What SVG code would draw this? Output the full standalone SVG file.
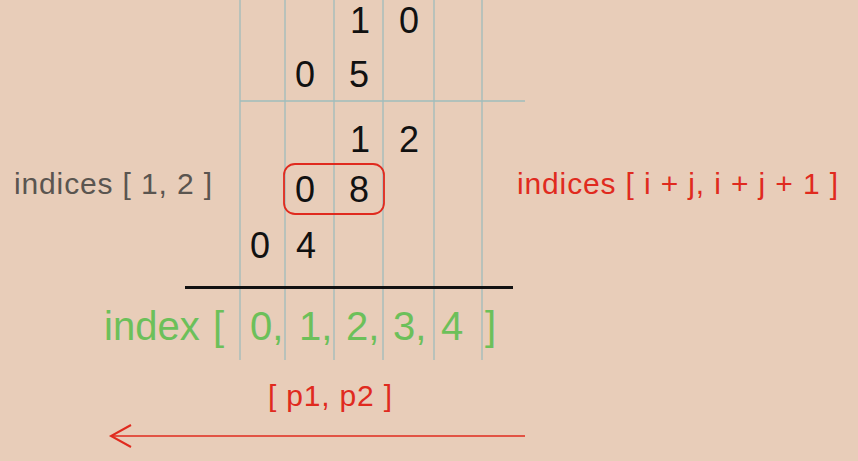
<svg xmlns="http://www.w3.org/2000/svg" width="858" height="461" viewBox="0 0 858 461">
<style>
.grid{stroke:#9fbcbc;stroke-width:1.3;fill:none}
.d{font-family:"Liberation Sans",Arial,sans-serif;font-size:36px;fill:#111;text-anchor:middle}
.g{font-family:"Liberation Sans",Arial,sans-serif;font-size:40px;fill:#6cc05a}
.r{font-family:"Liberation Sans",Arial,sans-serif;fill:#e02a1e}
</style>
<rect width="858" height="461" fill="#e8cdb9"/>
<g id="grid">
<line class="grid" x1="240" y1="0" x2="240" y2="360"/>
<line class="grid" x1="285" y1="0" x2="285" y2="360"/>
<line class="grid" x1="334" y1="0" x2="334" y2="360"/>
<line class="grid" x1="383" y1="0" x2="383" y2="360"/>
<line class="grid" x1="434" y1="0" x2="434" y2="360"/>
<line class="grid" x1="482" y1="0" x2="482" y2="360"/>
<line class="grid" x1="240" y1="101" x2="525" y2="101"/>
</g>
<g id="digits">
<text class="d" x="360" y="33">1</text>
<text class="d" x="409" y="33">0</text>
<text class="d" x="305" y="87">0</text>
<text class="d" x="359" y="87">5</text>
<text class="d" x="360" y="152">1</text>
<text class="d" x="409" y="152">2</text>
<text class="d" x="305" y="202">0</text>
<text class="d" x="359" y="202">8</text>
<text class="d" x="260" y="258">0</text>
<text class="d" x="306" y="258">4</text>
</g>
<g id="highlight">
<rect x="284" y="164" width="100" height="50" rx="11" fill="none" stroke="#e02a1e" stroke-width="1.8"/>
</g>
<g id="sumline">
<line x1="185" y1="287.5" x2="513" y2="287.5" stroke="#111" stroke-width="3"/>
</g>
<g id="index">
<text class="g" x="104" y="340">index</text>
<text class="g" x="213" y="340">[</text>
<text class="g" x="250" y="340">0,</text>
<text class="g" x="299" y="340">1,</text>
<text class="g" x="346" y="340">2,</text>
<text class="g" x="393" y="340">3,</text>
<text class="g" x="441" y="340">4</text>
<text class="g" x="485" y="340">]</text>
</g>
<g id="left-label">
<text x="14" y="194" font-family="Liberation Sans,Arial,sans-serif" font-size="30" fill="#5a5550" textLength="198" lengthAdjust="spacing">indices [ 1, 2 ]</text>
</g>
<g id="right-label">
<text class="r" x="517" y="194" font-size="30" textLength="321" lengthAdjust="spacing">indices [ i + j, i + j + 1 ]</text>
</g>
<g id="p-label">
<text class="r" x="268" y="406" font-size="30" textLength="124" lengthAdjust="spacing">[ p1, p2 ]</text>
</g>
<g id="connectors">
<line x1="525" y1="436" x2="111" y2="436" stroke="#e02a1e" stroke-width="1.6"/>
<polyline points="131,425 111,436 131,447" fill="none" stroke="#e02a1e" stroke-width="2"/>
</g>
</svg>
